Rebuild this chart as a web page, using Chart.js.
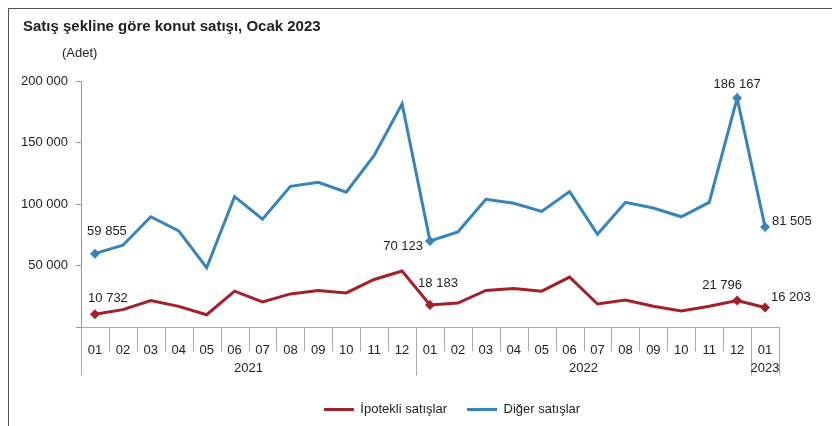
<!DOCTYPE html>
<html lang="tr">
<head>
<meta charset="utf-8">
<title>Satış şekline göre konut satışı</title>
<script src="https://cdn.jsdelivr.net/npm/chart.js@4.4.0/dist/chart.umd.min.js"></script>
<style>
  html, body { margin: 0; padding: 0; background: #fff; }
  #wrap { position: relative; width: 832px; height: 426px; overflow: hidden; }
  #frame { position: absolute; left: 8px; top: 8px; width: 900px; height: 500px; border-left: 1px solid #555; border-top: 1px solid #555; }
  #chart { position: absolute; left: 0; top: 0; }
</style>
</head>
<body>
<div id="wrap">
  <div id="frame"></div>
  <canvas id="chart" width="832" height="426"></canvas>
</div>
<script>
// monthly sales by type, Jan 2021 - Jan 2023
const months = ['01', '02', '03', '04', '05', '06', '07', '08', '09', '10', '11', '12',
                '01', '02', '03', '04', '05', '06', '07', '08', '09', '10', '11', '12', '01'];
const years = ['2021', '2022', '2023'];
const yearSpans = [12, 12, 1];

const ipotekli = [10732, 14400, 21800, 17100, 10300, 29400, 20700, 27200, 30000, 28000, 38900, 45700,
                  18183, 19800, 30000, 31600, 29400, 40800, 19000, 22300, 17100, 13300, 17100, 21796, 16203];
const diger = [59855, 66700, 89800, 78400, 48400, 106100, 87900, 114500, 117800, 109700, 139600, 181500,
               70123, 77500, 104000, 100700, 94100, 110200, 75600, 101500, 96900, 89800, 101500, 186167, 81505];

// points that get a marker and a value label
const labelledIdx = [0, 12, 23, 24];

const RED = '#a3202a';
const BLUE = '#3584bd';
const FONT = '"Liberation Sans", Arial, sans-serif';

function fmt(v) {
  return String(v).replace(/\B(?=(\d{3})+(?!\d))/g, ' ');
}

function markerSizes() {
  return months.map((m, i) => labelledIdx.includes(i) ? 5 : 0);
}

// label placement per dataset, same order as labelledIdx
const labelPlacement = [
  [ { dx: 13, dy: -16, align: 'center' }, { dx: 8, dy: -22, align: 'center' },
    { dx: -15, dy: -15, align: 'center' }, { dx: 6, dy: -10, align: 'left' } ],
  [ { dx: 12, dy: -22, align: 'center' }, { dx: -7, dy: 5, align: 'right' },
    { dx: 0, dy: -14, align: 'center' }, { dx: 7, dy: -6, align: 'left' } ]
];

const headerPlugin = {
  id: 'header',
  beforeDraw(chart) {
    const ctx = chart.ctx;
    ctx.save();
    ctx.fillStyle = '#222';
    ctx.textBaseline = 'middle';
    ctx.textAlign = 'left';
    ctx.font = 'bold 15px ' + FONT;
    ctx.fillText('Satış şekline göre konut satışı, Ocak 2023', 23, 27);
    ctx.font = '13px ' + FONT;
    ctx.fillText('(Adet)', 62, 53);
    ctx.restore();
  }
};

// month separators and year row under the x axis
const yearRowPlugin = {
  id: 'yearRow',
  afterDraw(chart) {
    const x = chart.scales.x;
    const ctx = chart.ctx;
    const top = chart.chartArea.bottom;
    const half = (x.getPixelForValue(1) - x.getPixelForValue(0)) / 2;
    const starts = [0];
    yearSpans.forEach(s => starts.push(starts[starts.length - 1] + s));
    ctx.save();
    ctx.strokeStyle = '#aaa';
    ctx.lineWidth = 1;
    for (let i = 0; i <= months.length; i++) {
      const px = Math.round(x.getPixelForValue(i) - half) + 0.5;
      const long = starts.includes(i);
      ctx.beginPath();
      ctx.moveTo(px, top);
      ctx.lineTo(px, top + (long ? 48 : 24));
      ctx.stroke();
    }
    ctx.fillStyle = '#222';
    ctx.font = '13px ' + FONT;
    ctx.textAlign = 'center';
    ctx.textBaseline = 'middle';
    years.forEach((y, k) => {
      const a = x.getPixelForValue(starts[k]) - half;
      const b = x.getPixelForValue(starts[k + 1] - 1) + half;
      ctx.fillText(y, (a + b) / 2, top + 41);
    });
    ctx.restore();
  }
};

const valueLabelPlugin = {
  id: 'valueLabels',
  afterDatasetsDraw(chart) {
    const ctx = chart.ctx;
    ctx.save();
    ctx.fillStyle = '#222';
    ctx.font = '13px ' + FONT;
    ctx.textBaseline = 'middle';
    chart.data.datasets.forEach((ds, d) => {
      const meta = chart.getDatasetMeta(d);
      labelledIdx.forEach((i, k) => {
        const pt = meta.data[i];
        const p = labelPlacement[d][k];
        ctx.textAlign = p.align;
        ctx.fillText(fmt(ds.data[i]), pt.x + p.dx, pt.y + p.dy);
      });
    });
    ctx.restore();
  }
};

// slide the legend so it sits under the right part of the plot
const legendShiftPlugin = {
  id: 'legendShift',
  afterLayout(chart) {
    const lg = chart.legend;
    const shift = 452 - (lg.left + lg.right) / 2;
    lg.left += shift;
    lg.right += shift;
  }
};

new Chart(document.getElementById('chart'), {
  type: 'line',
  data: {
    labels: months,
    datasets: [
      {
        label: 'İpotekli satışlar',
        data: ipotekli,
        borderColor: RED,
        backgroundColor: RED,
        borderWidth: 3,
        pointStyle: 'rectRot',
        pointRadius: markerSizes(),
        pointBorderWidth: 0,
        tension: 0
      },
      {
        label: 'Diğer satışlar',
        data: diger,
        borderColor: BLUE,
        backgroundColor: BLUE,
        borderWidth: 3,
        pointStyle: 'rectRot',
        pointRadius: markerSizes(),
        pointBorderWidth: 0,
        tension: 0
      }
    ]
  },
  options: {
    responsive: false,
    animation: false,
    layout: { padding: { left: 0, right: 53, top: 81, bottom: 0 } },
    scales: {
      x: {
        offset: true,
        grid: { display: false },
        border: { display: true, color: '#aaa' },
        ticks: {
          autoSkip: false,
          maxRotation: 0,
          padding: 7,
          color: '#222',
          font: { family: FONT, size: 13 }
        },
        afterFit(scale) { scale.height = 55.6; }
      },
      y: {
        min: 0,
        max: 200000,
        grid: { drawOnChartArea: false, tickLength: 5, color: '#999' },
        border: { display: true, color: '#999' },
        ticks: {
          stepSize: 50000,
          padding: 8,
          color: '#222',
          font: { family: FONT, size: 13 },
          callback: v => v === 0 ? '' : fmt(v)
        },
        afterFit(scale) { scale.width = 81; }
      }
    },
    plugins: {
      tooltip: { enabled: false },
      legend: {
        position: 'bottom',
        labels: {
          boxWidth: 30,
          boxHeight: 3,
          padding: 20,
          color: '#222',
          font: { family: FONT, size: 13 },
          generateLabels(chart) {
            return Chart.defaults.plugins.legend.labels.generateLabels(chart)
              .map(item => Object.assign(item, { lineWidth: 0 }));
          }
        }
      }
    }
  },
  plugins: [headerPlugin, yearRowPlugin, valueLabelPlugin, legendShiftPlugin]
});
</script>
</body>
</html>
